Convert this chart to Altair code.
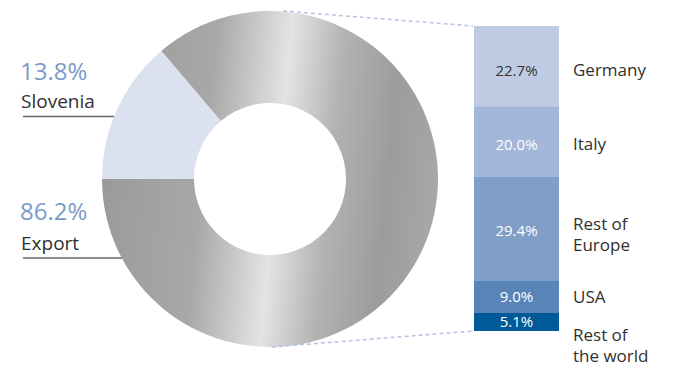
import math
import altair as alt
import pandas as pd

# ---- data ----
donut_names = ["Slovenia", "Export"]
donut_values = [13.8, 86.2]

export_names = ["Germany", "Italy", "Rest of\nEurope", "USA", "Rest of\nthe world"]
export_values = [22.7, 20.0, 29.4, 9.0, 5.1]

# ---- styles ----
FONT = "Open Sans"
W, H = 659, 360
CX, CY = 262, 171
R_OUT, R_IN = 168, 76
BAR_X0, BAR_X1 = 466, 551
BAR_TOP, BAR_BOT = 18, 323
seg_colors = ["#bfcbe3", "#a4b7d8", "#7f9ec8", "#5884b8", "#005a97"]
pct_text_colors = ["#333333", "#ffffff", "#ffffff", "#ffffff", "#ffffff"]
pct_dy = [5, 3, 2, 0, 0]
cat_dy = [5, 3, -4, 1, 14]

donut_df = pd.DataFrame({"name": donut_names, "value": donut_values,
                         "ord": list(range(len(donut_names)))})
bar_df = pd.DataFrame({"name": export_names, "value": export_values,
                       "ord": list(range(len(export_names)))})

theta_scale = alt.Scale(domain=[0, 100], range=[-math.pi / 2, 3 * math.pi / 2])
y_scale = alt.Scale(domain=[0, sum(export_values)], range=[BAR_TOP, BAR_BOT])

donut_base = alt.Chart(donut_df).transform_stack(
    stack="value", as_=["v0", "v1"], groupby=[], sort=[alt.SortField("ord")]
)

metal = alt.Gradient(
    gradient="linear", x1=0, x2=1, y1=0.45, y2=0.55,
    stops=[
        alt.GradientStop(color="#9a9a9a", offset=0),
        alt.GradientStop(color="#a8a8a8", offset=0.3),
        alt.GradientStop(color="#e4e4e4", offset=0.52),
        alt.GradientStop(color="#b2b2b2", offset=0.68),
        alt.GradientStop(color="#9c9c9c", offset=0.85),
        alt.GradientStop(color="#a8a8a8", offset=1),
    ],
)

slov_arc = donut_base.transform_filter(alt.datum.name == "Slovenia").mark_arc(
    innerRadius=R_IN, outerRadius=R_OUT, fill="#dce1ef"
).encode(
    theta=alt.Theta("v0:Q", scale=theta_scale), theta2="v1:Q",
    x=alt.value(CX), y=alt.value(CY),
)
exp_arc = donut_base.transform_filter(alt.datum.name == "Export").mark_arc(
    innerRadius=R_IN, outerRadius=R_OUT, fill=metal
).encode(
    theta=alt.Theta("v0:Q", scale=theta_scale), theta2="v1:Q",
    x=alt.value(CX), y=alt.value(CY),
)

# left labels
left_layers = []
left_pos = [(72, 100, 108.5, 106), (212, 242, 250, 114)]
for i, (name, val) in enumerate(zip(donut_names, donut_values)):
    py, ny, uy, ux = left_pos[i]
    d = pd.DataFrame({"pct": [f"{val:.1f}%"], "name": [name]})
    left_layers.append(alt.Chart(d).mark_text(
        font=FONT, fontSize=24, color="#7a9ac8", align="left", baseline="alphabetic"
    ).encode(text="pct:N", x=alt.value(12), y=alt.value(py)))
    left_layers.append(alt.Chart(d).mark_text(
        font=FONT, fontSize=19, color="#303030", align="left", baseline="alphabetic"
    ).encode(text="name:N", x=alt.value(13), y=alt.value(ny)))
    left_layers.append(alt.Chart(d).mark_rule(color="#666666", strokeWidth=1.5).encode(
        x=alt.value(15), x2=alt.value(ux), y=alt.value(uy)))

# connectors
conn_top = alt.Chart(pd.DataFrame({"a": [0]})).mark_rule(
    color="#b4c3e0", strokeWidth=1.5, strokeDash=[4, 3]
).encode(x=alt.value(275), y=alt.value(3), x2=alt.value(465), y2=alt.value(18))
conn_bot = alt.Chart(pd.DataFrame({"a": [0]})).mark_rule(
    color="#b4c3e0", strokeWidth=1.5, strokeDash=[4, 3]
).encode(x=alt.value(264), y=alt.value(339), x2=alt.value(465), y2=alt.value(323))

# stacked bar
bar_base = alt.Chart(bar_df).transform_stack(
    stack="value", as_=["y0", "y1"], groupby=[], sort=[alt.SortField("ord")]
).transform_calculate(
    mid="(datum.y0 + datum.y1) / 2",
    pct="format(datum.value, '.1f') + '%'",
)

bars = bar_base.mark_bar().encode(
    y=alt.Y("y0:Q", scale=y_scale, axis=None), y2="y1:Q",
    x=alt.value(BAR_X0), x2=alt.value(BAR_X1),
    color=alt.Color("name:N", scale=alt.Scale(domain=export_names, range=seg_colors),
                    legend=None),
)

text_layers = []
for i, name in enumerate(export_names):
    sub = bar_base.transform_filter(alt.datum.name == name)
    text_layers.append(sub.mark_text(
        font=FONT, fontSize=15, color=pct_text_colors[i], align="center",
        baseline="middle", dy=pct_dy[i]
    ).encode(text="pct:N", y=alt.Y("mid:Q", scale=y_scale, axis=None),
             x=alt.value((BAR_X0 + BAR_X1) / 2)))
    text_layers.append(sub.mark_text(
        font=FONT, fontSize=17, color="#303030", align="left", baseline="middle",
        dy=cat_dy[i], lineBreak="\n", lineHeight=21
    ).encode(text="name:N", y=alt.Y("mid:Q", scale=y_scale, axis=None),
             x=alt.value(565)))

chart = alt.layer(
    exp_arc, slov_arc, conn_top, conn_bot, bars, *text_layers, *left_layers
).properties(
    width=W, height=H, padding=0, autosize=alt.AutoSizeParams(type="none"),
    background="white",
).configure_view(stroke=None)

chart.save("out.html", embed_options={"renderer": "svg", "actions": False})
